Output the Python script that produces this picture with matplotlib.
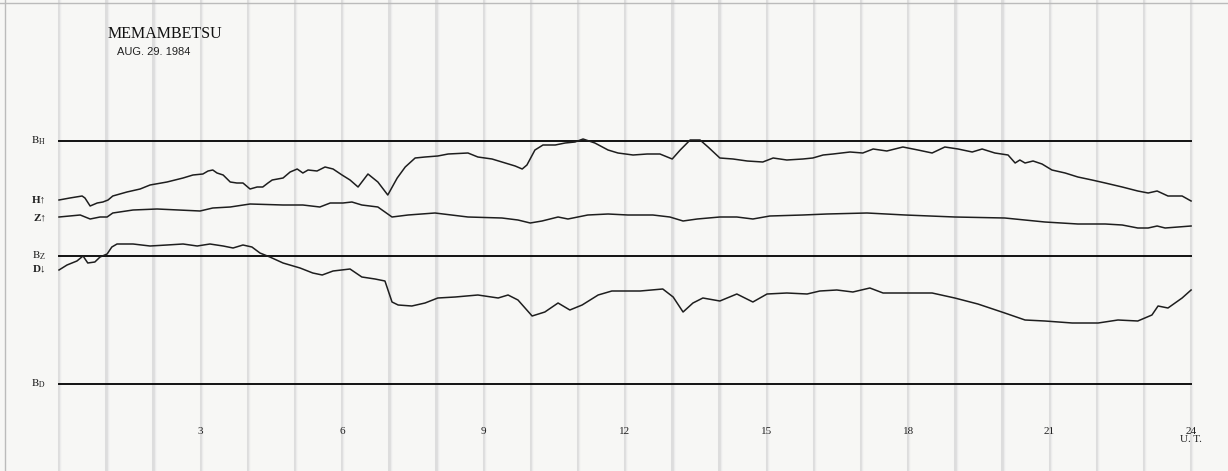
import numpy as np
import matplotlib
matplotlib.use('Agg')
import matplotlib.pyplot as plt
from matplotlib.lines import Line2D

plt.rcParams['mathtext.fontset'] = 'stix'
SERIF = ['Liberation Serif', 'DejaVu Serif']

# H trace: hour (UT), deflection above the D baseline
h_time = [0.0, 0.23, 0.49, 0.55, 0.66, 0.81, 0.93, 1.04, 1.14, 1.44, 1.72, 1.93, 2.29, 2.63,
          2.84, 3.05, 3.16, 3.26, 3.35, 3.48, 3.63, 3.77, 3.90, 4.05, 4.20, 4.32, 4.43, 4.52,
          4.75, 4.90, 5.05, 5.17, 5.28, 5.47, 5.64, 5.81, 6.00, 6.17, 6.34, 6.55, 6.76, 6.97,
          7.17, 7.34, 7.55, 7.76, 8.03, 8.25, 8.67, 8.88, 9.18, 9.46, 9.67, 9.82, 9.92, 10.09,
          10.26, 10.52, 10.73, 10.94, 11.11, 11.36, 11.64, 11.85, 12.17, 12.47, 12.74, 13.00,
          13.17, 13.38, 13.59, 13.76, 14.01, 14.29, 14.59, 14.92, 15.14, 15.43, 15.77, 15.98,
          16.20, 16.41, 16.77, 17.04, 17.26, 17.55, 17.89, 18.21, 18.51, 18.78, 19.06, 19.36,
          19.57, 19.84, 20.12, 20.27, 20.37, 20.48, 20.65, 20.84, 21.05, 21.33, 21.60, 21.90,
          22.18, 22.54, 22.87, 23.09, 23.28, 23.51, 23.81, 24.0]
h_val = [184, 186, 188, 186, 178, 181, 182, 184, 188, 192, 195, 199, 202, 206,
         209, 210, 213, 214, 211, 209, 202, 201, 201, 195, 197, 197, 201, 204,
         206, 212, 215, 211, 214, 213, 217, 215, 209, 204, 197, 210, 202, 189,
         206, 217, 226, 227, 228, 230, 231, 227, 225, 221, 218, 215, 219, 234,
         239, 239, 241, 242, 245, 241, 234, 231, 229, 230, 230, 225,
         234, 244, 244, 237, 226, 225, 223, 222, 226, 224, 225, 226,
         229, 230, 232, 231, 235, 233, 237, 234, 231, 237, 235, 232,
         235, 231, 229, 221, 224, 221, 223, 220, 214, 211, 207, 204,
         201, 197, 193, 191, 193, 188, 188, 183]

# Z trace
z_time = [0.0, 0.45, 0.66, 0.87, 1.02, 1.14, 1.57, 2.08, 2.99, 3.26, 3.63, 4.05, 4.75, 5.17,
          5.53, 5.75, 6.02, 6.21, 6.42, 6.76, 7.06, 7.40, 7.97, 8.67, 9.39, 9.73, 9.99, 10.24,
          10.58, 10.79, 11.21, 11.64, 12.06, 12.59, 12.95, 13.23, 13.53, 14.01, 14.37, 14.71,
          15.07, 15.77, 16.28, 17.13, 17.94, 18.99, 20.05, 20.90, 21.60, 22.18, 22.54, 22.87,
          23.09, 23.28, 23.45, 24.0]
z_val = [167, 169, 165, 167, 167, 171, 174, 175, 173, 176, 177, 180, 179, 179,
         177, 181, 181, 182, 179, 177, 167, 169, 171, 167, 166, 164, 161, 163,
         167, 165, 169, 170, 169, 169, 167, 163, 165, 167, 167, 165,
         168, 169, 170, 171, 169, 167, 166, 162, 160, 160, 159, 156,
         156, 158, 156, 158]

# D trace
d_time = [0.0, 0.17, 0.38, 0.51, 0.61, 0.76, 0.87, 1.02, 1.12, 1.23, 1.57, 1.93, 2.29, 2.63,
          2.93, 3.20, 3.48, 3.69, 3.90, 4.09, 4.26, 4.47, 4.75, 5.11, 5.38, 5.58, 5.81, 6.17,
          6.42, 6.70, 6.91, 7.06, 7.19, 7.48, 7.76, 8.03, 8.40, 8.88, 9.31, 9.52, 9.73, 10.03,
          10.30, 10.58, 10.83, 11.09, 11.43, 11.72, 12.32, 12.80, 13.02, 13.23, 13.44, 13.65,
          14.01, 14.37, 14.71, 15.01, 15.43, 15.86, 16.13, 16.49, 16.83, 17.19, 17.47, 18.10,
          18.51, 18.99, 19.48, 20.05, 20.48, 20.90, 21.48, 22.03, 22.45, 22.87, 23.17, 23.30,
          23.51, 23.81, 24.0]
d_val = [114, 119, 123, 128, 121, 122, 127, 130, 137, 140, 140, 138, 139, 140,
         138, 140, 138, 136, 139, 137, 131, 127, 121, 116, 111, 109, 113, 115,
         107, 105, 103, 82, 79, 78, 81, 86, 87, 89, 86, 89, 84, 68,
         72, 81, 74, 79, 89, 93, 93, 95, 87, 72, 81, 86,
         83, 90, 82, 90, 91, 90, 93, 94, 92, 96, 91, 91,
         91, 86, 80, 71, 64, 63, 61, 61, 64, 63, 69, 78,
         76, 86, 94]

# baselines and labels
base_names = [r'$\mathrm{B_H}$', r'$\mathrm{B_Z}$', r'$\mathrm{B_D}$']
base_levels = [243, 128, 0]
trace_names = ['H\u2191', 'Z\u2191', 'D\u2193']
trace_label_levels = [184, 166, 115]
tick_hours = [3, 6, 9, 12, 15, 18, 21, 24]

fig = plt.figure(figsize=(12.28, 4.71), dpi=100, facecolor='#f7f7f5')
ax = fig.add_axes([0, 0, 1, 1])
ax.set_facecolor('#f7f7f5')
ax.set_xlim(-59 / 47.17, (1228 - 59) / 47.17)
ax.set_ylim(-87, 384)
ax.axis('off')

# hour lines on the chart paper
for hr in range(0, 25):
    ax.axvline(hr, color='#dddddd', lw=2.2, zorder=0)
    ax.axvline(hr + 0.03, color='#ececec', lw=1.0, zorder=0)

# scan edges
fig.add_artist(Line2D([5 / 1228, 5 / 1228], [0, 1], color='#bbbbbb', lw=1.0))
fig.add_artist(Line2D([0, 1], [1 - 3 / 471, 1 - 3 / 471], color='#bbbbbb', lw=1.0))

for name, lvl in zip(base_names, base_levels):
    ax.plot([0, 24], [lvl, lvl], color='#111111', lw=1.4, zorder=2)
    ax.text(-0.27, lvl, name, fontsize=8, ha='right', va='center', color='#222222')

for name, lvl in zip(trace_names, trace_label_levels):
    ax.text(-0.27, lvl, name, fontsize=8, ha='right', va='center', color='#222222',
            family=SERIF + ['DejaVu Sans'], fontweight='bold')

for t, v in [(h_time, h_val), (z_time, z_val), (d_time, d_val)]:
    ax.plot(t, v, color='#1e1e1e', lw=1.1, zorder=3)

for hr in tick_hours:
    ax.text(hr, -47, str(hr), fontsize=8, ha='center', va='center', family=SERIF,
            color='#222222')
ax.text(24, -56, 'U. T.', fontsize=8, ha='center', va='center', family=SERIF,
        color='#222222')

ax.text(1.04, 350, 'MEMAMBETSU', fontsize=11.5, ha='left', va='center', family=SERIF,
        color='#111111')
ax.text(1.24, 332, 'AUG. 29. 1984', fontsize=8, ha='left', va='center',
        family='Liberation Sans', color='#222222')

fig.savefig('out.png', dpi=100, facecolor=fig.get_facecolor())
